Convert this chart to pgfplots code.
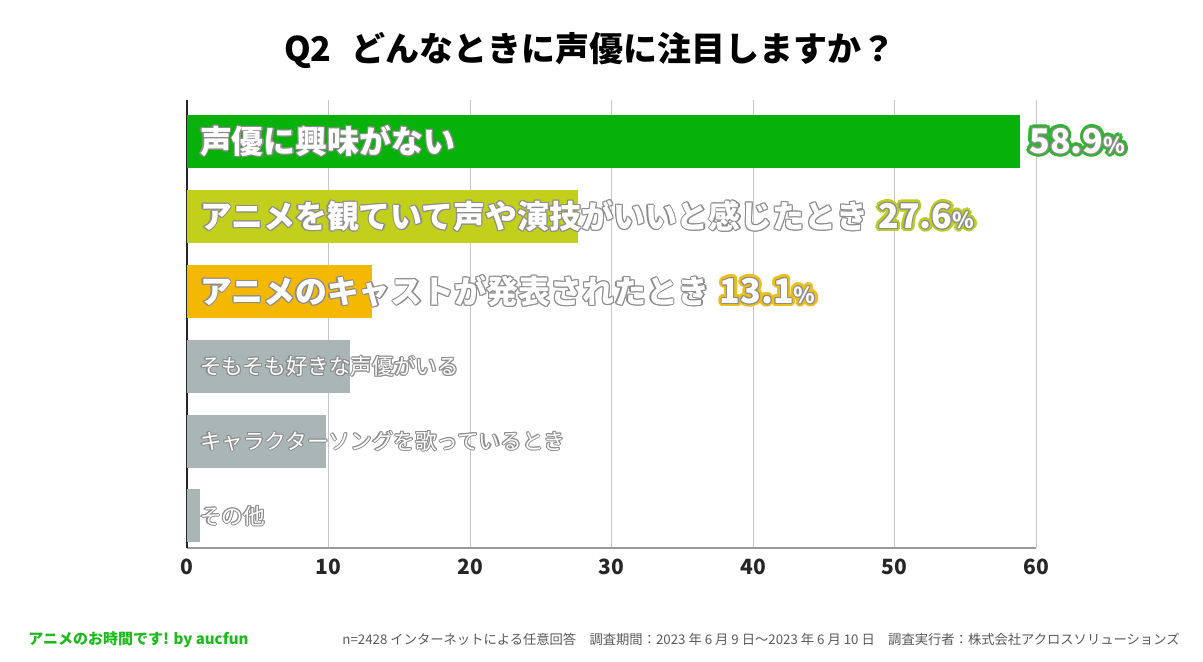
\documentclass[border=0pt]{standalone}
\usepackage{fontspec}
\setmainfont{Noto Sans CJK JP}
\usepackage{pgfplots}
\pgfplotsset{compat=1.18}
\definecolor{cGreen}{HTML}{06B10A}
\definecolor{cYG}{HTML}{C2D01C}
\definecolor{cOr}{HTML}{F5B800}
\definecolor{cGray}{HTML}{AAB5B5}
\definecolor{cOut}{HTML}{8C8C8C}
\definecolor{gGreen}{HTML}{2DB52D}
\definecolor{gYG}{HTML}{BCCC22}
\definecolor{gOr}{HTML}{EBBE1E}
\definecolor{footGreen}{HTML}{1FB81F}
\newdimen\owd
\newcommand\oc[2]{\rlap{\kern#1\owd\raisebox{#2\owd}{\otxt}}}
\newcommand\ringE{\oc{1}{0}\oc{-1}{0}\oc{0}{1}\oc{0}{-1}\oc{.707}{.707}\oc{-.707}{.707}\oc{.707}{-.707}\oc{-.707}{-.707}}
\newcommand\ringS{\ringE\oc{.924}{.383}\oc{.383}{.924}\oc{-.383}{.924}\oc{-.924}{.383}\oc{-.924}{-.383}\oc{-.383}{-.924}\oc{.383}{-.924}\oc{.924}{-.383}}
\newcommand\outl[4]{{\def\otxt{#4}\owd=#3\relax\color{#1}\ringE\color{#2}#4}}
\newcommand\outlII[5]{{\def\otxt{#5}\owd=#4\relax\color{#1}\ringS\owd=0.55pt\relax\color{#2}\ringE\color{#3}#5}}
\newcommand\pct[2]{{\fontsize{17}{20}\selectfont\bfseries\outlII{#1}{cOut}{white}{1.8pt}{#2{\fontsize{11}{12}\selectfont\%}}}}
\begin{document}
\begin{tikzpicture}
\path[use as bounding box] (0,0) rectangle (601.5pt,-330.5pt);
\node[font=\fontsize{17}{19}\selectfont\bfseries] at (295pt,-25pt) {Q2\hspace{0.6em}どんなときに声優に注目しますか？};
\begin{axis}[
  at={(93.5pt,-274pt)}, anchor=south west,
  width=424.5pt, height=224pt, scale only axis,
  xmin=0, xmax=60, ymin=0.573, ymax=6.547,
  xbar, bar width=26.5pt, bar shift=0pt,
  axis x line*=bottom, axis y line*=left,
  x axis line style={draw=gray!80, line width=1pt, -},
  y axis line style={draw=black!85, line width=0.8pt, -},
  ytick=\empty, xtick={0,10,...,60},
  xmajorgrids, grid style={gray!45, line width=0.5pt},
  major tick length=0pt,
  tick label style={font=\fontsize{10.5}{12}\selectfont\bfseries, text=black!85},
  xticklabel style={yshift=-2pt},
  /pgf/number format/assume math mode=true,
  clip=false,
]
\addplot[fill=cGreen, draw=none] coordinates {(58.9,6)};
\addplot[fill=cYG, draw=none] coordinates {(27.6,5)};
\addplot[fill=cOr, draw=none] coordinates {(13.1,4)};
\addplot[fill=cGray, draw=none] coordinates {(11.5,3)};
\addplot[fill=cGray, draw=none] coordinates {(9.8,2)};
\addplot[fill=cGray, draw=none] coordinates {(0.9,1)};

\node[anchor=west, xshift=3pt, font=\fontsize{15.95}{18}\selectfont\bfseries] at (axis cs:0,6) {\outl{cOut}{white}{0.6pt}{声優に興味がない}};
\node[anchor=west, xshift=1pt] at (axis cs:58.9,6) {\pct{gGreen}{58.9}};
\node[anchor=west, xshift=3pt, font=\fontsize{15.95}{18}\selectfont\bfseries] at (axis cs:0,5) {\outl{cOut}{white}{0.6pt}{アニメを観ていて声や演技がいいと感じたとき}\hspace{5pt}\pct{gYG}{27.6}};
\node[anchor=west, xshift=3pt, font=\fontsize{15.95}{18}\selectfont\bfseries] at (axis cs:0,4) {\outl{cOut}{white}{0.6pt}{アニメのキャストが発表されたとき}\hspace{5pt}\pct{gOr}{13.1}};
\node[anchor=west, xshift=3pt, font=\fontsize{10.8}{12}\selectfont] at (axis cs:0,3) {\outl{cOut}{white}{0.55pt}{そもそも好きな声優がいる}};
\node[anchor=west, xshift=3pt, font=\fontsize{10.8}{12}\selectfont] at (axis cs:0,2) {\outl{cOut}{white}{0.55pt}{キャラクターソングを歌っているとき}};
\node[anchor=west, xshift=3pt, font=\fontsize{10.8}{12}\selectfont] at (axis cs:0,1) {\outl{cOut}{white}{0.55pt}{その他}};
\end{axis}
\node[anchor=west, inner sep=0pt, font=\fontsize{7.5}{9}\selectfont\bfseries, text=footGreen] at (14pt,-320pt) {アニメのお時間です! by aucfun};
\node[anchor=east, inner sep=0pt, font=\fontsize{6.65}{8}\selectfont, text=black!65] at (590pt,-319.5pt) {n=2428 インターネットによる任意回答\hspace{1em}調査期間：2023 年 6 月 9 日～2023 年 6 月 10 日\hspace{1em}調査実行者：株式会社アクロスソリューションズ};
\end{tikzpicture}
\end{document}
